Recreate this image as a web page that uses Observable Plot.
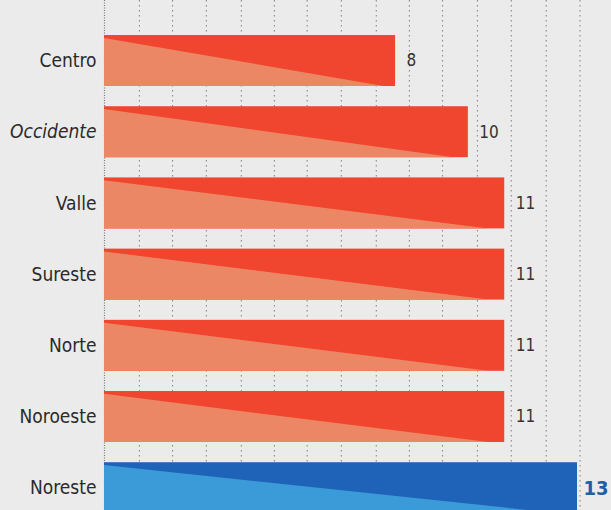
<!DOCTYPE html>
<html><head><meta charset="utf-8">
<script src="https://cdn.jsdelivr.net/npm/d3@7"></script>
<script src="https://cdn.jsdelivr.net/npm/@observablehq/plot@0.6"></script>
<style>
html,body{margin:0;padding:0;background:#ebebeb;overflow:hidden;}
</style></head><body><div id="chart"></div>
<script>
const regions = ["Centro","Occidente","Valle","Sureste","Norte","Noroeste","Noreste"];
const values = [8, 10, 11, 11, 11, 11, 13];
const gridTicks = [0.96, 1.87, 2.8, 3.76, 4.67, 5.57, 6.51, 7.47, 8.38, 9.29, 10.25, 11.18, 12.14, 13.07];
const highlight = "Noreste";
const italicRegions = ["Occidente"];

const data = regions.map((r, i) => ({region: r, value: values[i], i}));
const HALF = 0.358;
const tri = data.flatMap(d => [
  {region: d.region, x: 0, top: d.i - HALF + 0.04, bottom: d.i + HALF},
  {region: d.region, x: d.value * 0.96, top: d.i + HALF, bottom: d.i + HALF}
]);

const dark = d => d.region === highlight ? "#1f63b8" : "#f0452e";
const light = d => d.region === highlight ? "#3b9bd8" : "#ec8766";

const font = "'Liberation Sans Narrow','DejaVu Sans Condensed','Roboto',sans-serif";

const chart = Plot.plot({
  width: 611,
  height: 510,
  marginLeft: 104,
  marginRight: 34,
  marginTop: 0,
  marginBottom: 0,
  style: {fontFamily: font, background: "#ebebeb"},
  x: {domain: [0, 13], axis: null},
  y: {domain: [6.313, -0.85], axis: null},
  marks: [
    Plot.ruleX(gridTicks, {stroke: "#8a8a8a", strokeDasharray: "1.5,3.5", strokeWidth: 1.1}),
    Plot.ruleX([0], {stroke: "#777", strokeDasharray: "1,1.5", strokeWidth: 1.2}),
    Plot.rectX(data, {x1: 0, x2: "value", y1: d => d.i - HALF, y2: d => d.i + HALF, fill: dark}),
    Plot.areaY(tri, {x: "x", y1: "bottom", y2: "top", z: "region", fill: light}),
    Plot.text(data.filter(d => !italicRegions.includes(d.region)), {
      x: 0, y: "i", text: "region", textAnchor: "end", dx: -8, fontSize: 19, fill: "#2a2a2a"
    }),
    Plot.text(data.filter(d => italicRegions.includes(d.region)), {
      x: 0, y: "i", text: "region", textAnchor: "end", dx: -8, fontSize: 19, fill: "#2a2a2a", fontStyle: "italic"
    }),
    Plot.text(data.filter(d => d.region !== highlight), {
      x: "value", y: "i", text: d => String(d.value), textAnchor: "start", dx: 11, fontSize: 17, fill: "#333"
    }),
    Plot.text(data.filter(d => d.region === highlight), {
      x: "value", y: "i", text: d => String(d.value), textAnchor: "start", dx: 6, fontSize: 20, fontWeight: "bold", fill: "#1f5fa8"
    })
  ]
});
document.getElementById("chart").appendChild(chart);
</script></body></html>
